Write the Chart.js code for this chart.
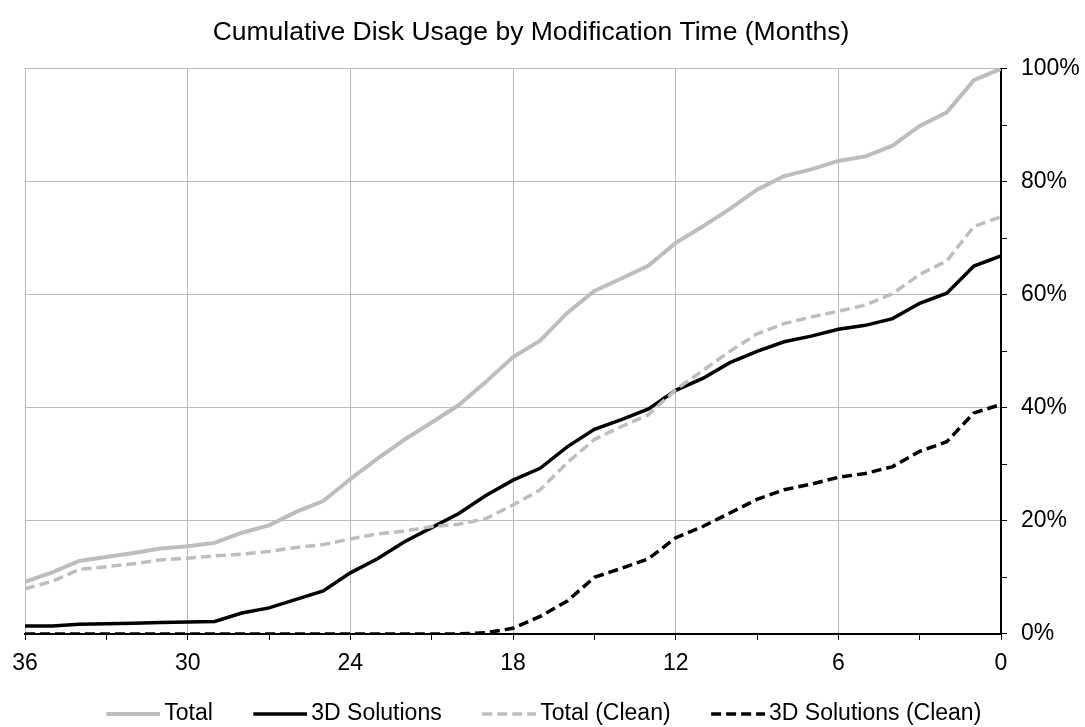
<!DOCTYPE html>
<html>
<head>
<meta charset="utf-8">
<script src="https://cdn.jsdelivr.net/npm/chart.js@4.4.0/dist/chart.umd.min.js"></script>
<style>
  html, body { margin: 0; padding: 0; background: #fff; }
  #wrap { width: 1085px; height: 727px; }
</style>
</head>
<body>
<div id="wrap"><canvas id="usageCanvas"></canvas></div>
<script>
// months before now, oldest first
var months = [36,35,34,33,32,31,30,29,28,27,26,25,24,23,22,21,20,19,18,17,16,15,14,13,12,11,10,9,8,7,6,5,4,3,2,1,0];

// cumulative share of disk usage, %
var total = [9.2,10.9,12.9,13.6,14.3,15.1,15.5,16.1,17.9,19.2,21.6,23.5,27.4,31,34.4,37.4,40.5,44.6,49,51.9,56.8,60.7,62.9,65.2,69.2,72.1,75.2,78.6,81,82.2,83.7,84.5,86.4,89.9,92.3,98,100];
var solutions = [1.4,1.4,1.7,1.8,1.9,2.0,2.1,2.2,3.7,4.6,6.1,7.6,10.8,13.3,16.3,18.8,21.3,24.5,27.2,29.3,33.1,36.2,37.9,39.8,43.1,45.2,48,50,51.7,52.7,53.9,54.6,55.8,58.5,60.3,65.1,66.9];
var totalClean = [8,9.3,11.4,11.9,12.4,13.1,13.4,13.8,14.1,14.6,15.3,15.8,16.8,17.7,18.2,19,19.4,20.4,22.8,25.5,30.3,34.4,36.7,38.8,43.2,46.6,50,53.1,54.9,56.1,57.1,58.2,60.2,63.6,66,72.1,73.8];
var solutionsClean = [0,0,0,0,0,0,0,0,0,0,0,0,0,0,0,0,0,0.2,1,3.1,5.8,10,11.6,13.3,17,19,21.4,23.8,25.5,26.5,27.7,28.4,29.6,32.3,34,39.1,40.6];

var seriesNames = ['Total', '3D Solutions', 'Total (Clean)', '3D Solutions (Clean)'];

var toPoints = function(values){
    return values.map(function(v, i){ return {x: months[i], y: v}; });
};

var FONT = '"Liberation Sans", Arial, Helvetica, sans-serif';
Chart.defaults.font.family = FONT;
Chart.defaults.color = '#000';

var makeSet = function(i, values, color, width, dash){
    return {
        label: seriesNames[i],
        data: toPoints(values),
        borderColor: color,
        backgroundColor: color,
        borderWidth: width,
        borderDash: dash,
        pointRadius: 0,
        tension: 0,
        fill: false,
        order: 4 - i   // later series on top
    };
};

// legend marker: a line sample sitting at the right end of a wider canvas,
// so the sample ends close to its text and the spare room goes to the left
var BOX_W = 72;
var MARK_W = 87, LINE_LEN = 54;
var makeMarker = function(ds){
    var c = document.createElement('canvas');
    c.width = MARK_W;
    c.height = 8;
    var g = c.getContext('2d');
    g.strokeStyle = ds.borderColor;
    g.lineWidth = ds.borderWidth;
    g.setLineDash(ds.borderDash || []);
    g.beginPath();
    g.moveTo(MARK_W - LINE_LEN, 4);
    g.lineTo(MARK_W, 4);
    g.stroke();
    return c;
};

var legendLabels = function(chart){
    var items = Chart.defaults.plugins.legend.labels.generateLabels(chart);
    items.forEach(function(item){
        item.pointStyle = makeMarker(chart.data.datasets[item.datasetIndex]);
    });
    return items;
};

var ctx = document.getElementById('usageCanvas').getContext('2d');
var usageChart = new Chart(ctx, {
    type: 'line',
    data: {
        datasets: [
            makeSet(0, total, '#bdbdbd', 4, []),
            makeSet(1, solutions, '#000000', 3.5, []),
            makeSet(2, totalClean, '#bdbdbd', 3.5, [10, 5]),
            makeSet(3, solutionsClean, '#000000', 3.5, [10, 5])
        ]
    },
    options: {
        responsive: true,
        maintainAspectRatio: false,
        animation: false,
        layout: { padding: { left: -19, right: 4, top: 0, bottom: -8.5 } },
        plugins: {
            title: {
                display: true,
                text: 'Cumulative Disk Usage by Modification Time (Months)',
                font: { size: 26.5, weight: 'normal' },
                color: '#000',
                padding: { top: 17, bottom: 20 }
            },
            legend: {
                position: 'bottom',
                labels: {
                    usePointStyle: true,
                    pointStyleWidth: BOX_W,
                    boxHeight: 23,
                    padding: 15,
                    font: { size: 23 },
                    color: '#000',
                    generateLabels: legendLabels,
                    sort: function(a, b){ return a.datasetIndex - b.datasetIndex; }
                }
            },
            tooltip: { enabled: false }
        },
        scales: {
            x: {
                type: 'linear',
                reverse: true,
                min: 0,
                max: 36,
                afterFit: function(s){ s.paddingLeft = 25; },
                border: { color: '#000', width: 2 },
                grid: {
                    color: function(c){ return c.tick && c.tick.value % 6 === 0 ? '#bbbbbb' : 'rgba(0,0,0,0)'; },
                    tickColor: '#000',
                    tickLength: 6,
                    lineWidth: 1
                },
                ticks: {
                    stepSize: 3,
                    autoSkip: false,
                    maxRotation: 0,
                    padding: 10,
                    font: { size: 23 },
                    color: '#000',
                    callback: function(v){ return v % 6 === 0 ? String(v) : ''; }
                }
            },
            y: {
                position: 'right',
                min: 0,
                max: 100,
                afterFit: function(s){ s.width = 80; },
                border: { color: '#000', width: 2 },
                grid: {
                    color: function(c){ return c.tick && c.tick.value % 20 === 0 ? '#bbbbbb' : 'rgba(0,0,0,0)'; },
                    tickColor: '#000',
                    tickLength: 6,
                    lineWidth: 1
                },
                ticks: {
                    stepSize: 10,
                    autoSkip: false,
                    padding: 14,
                    font: { size: 23 },
                    color: '#000',
                    callback: function(v){ return v % 20 === 0 ? v + '%' : ''; }
                }
            }
        }
    }
});
</script>
</body>
</html>
